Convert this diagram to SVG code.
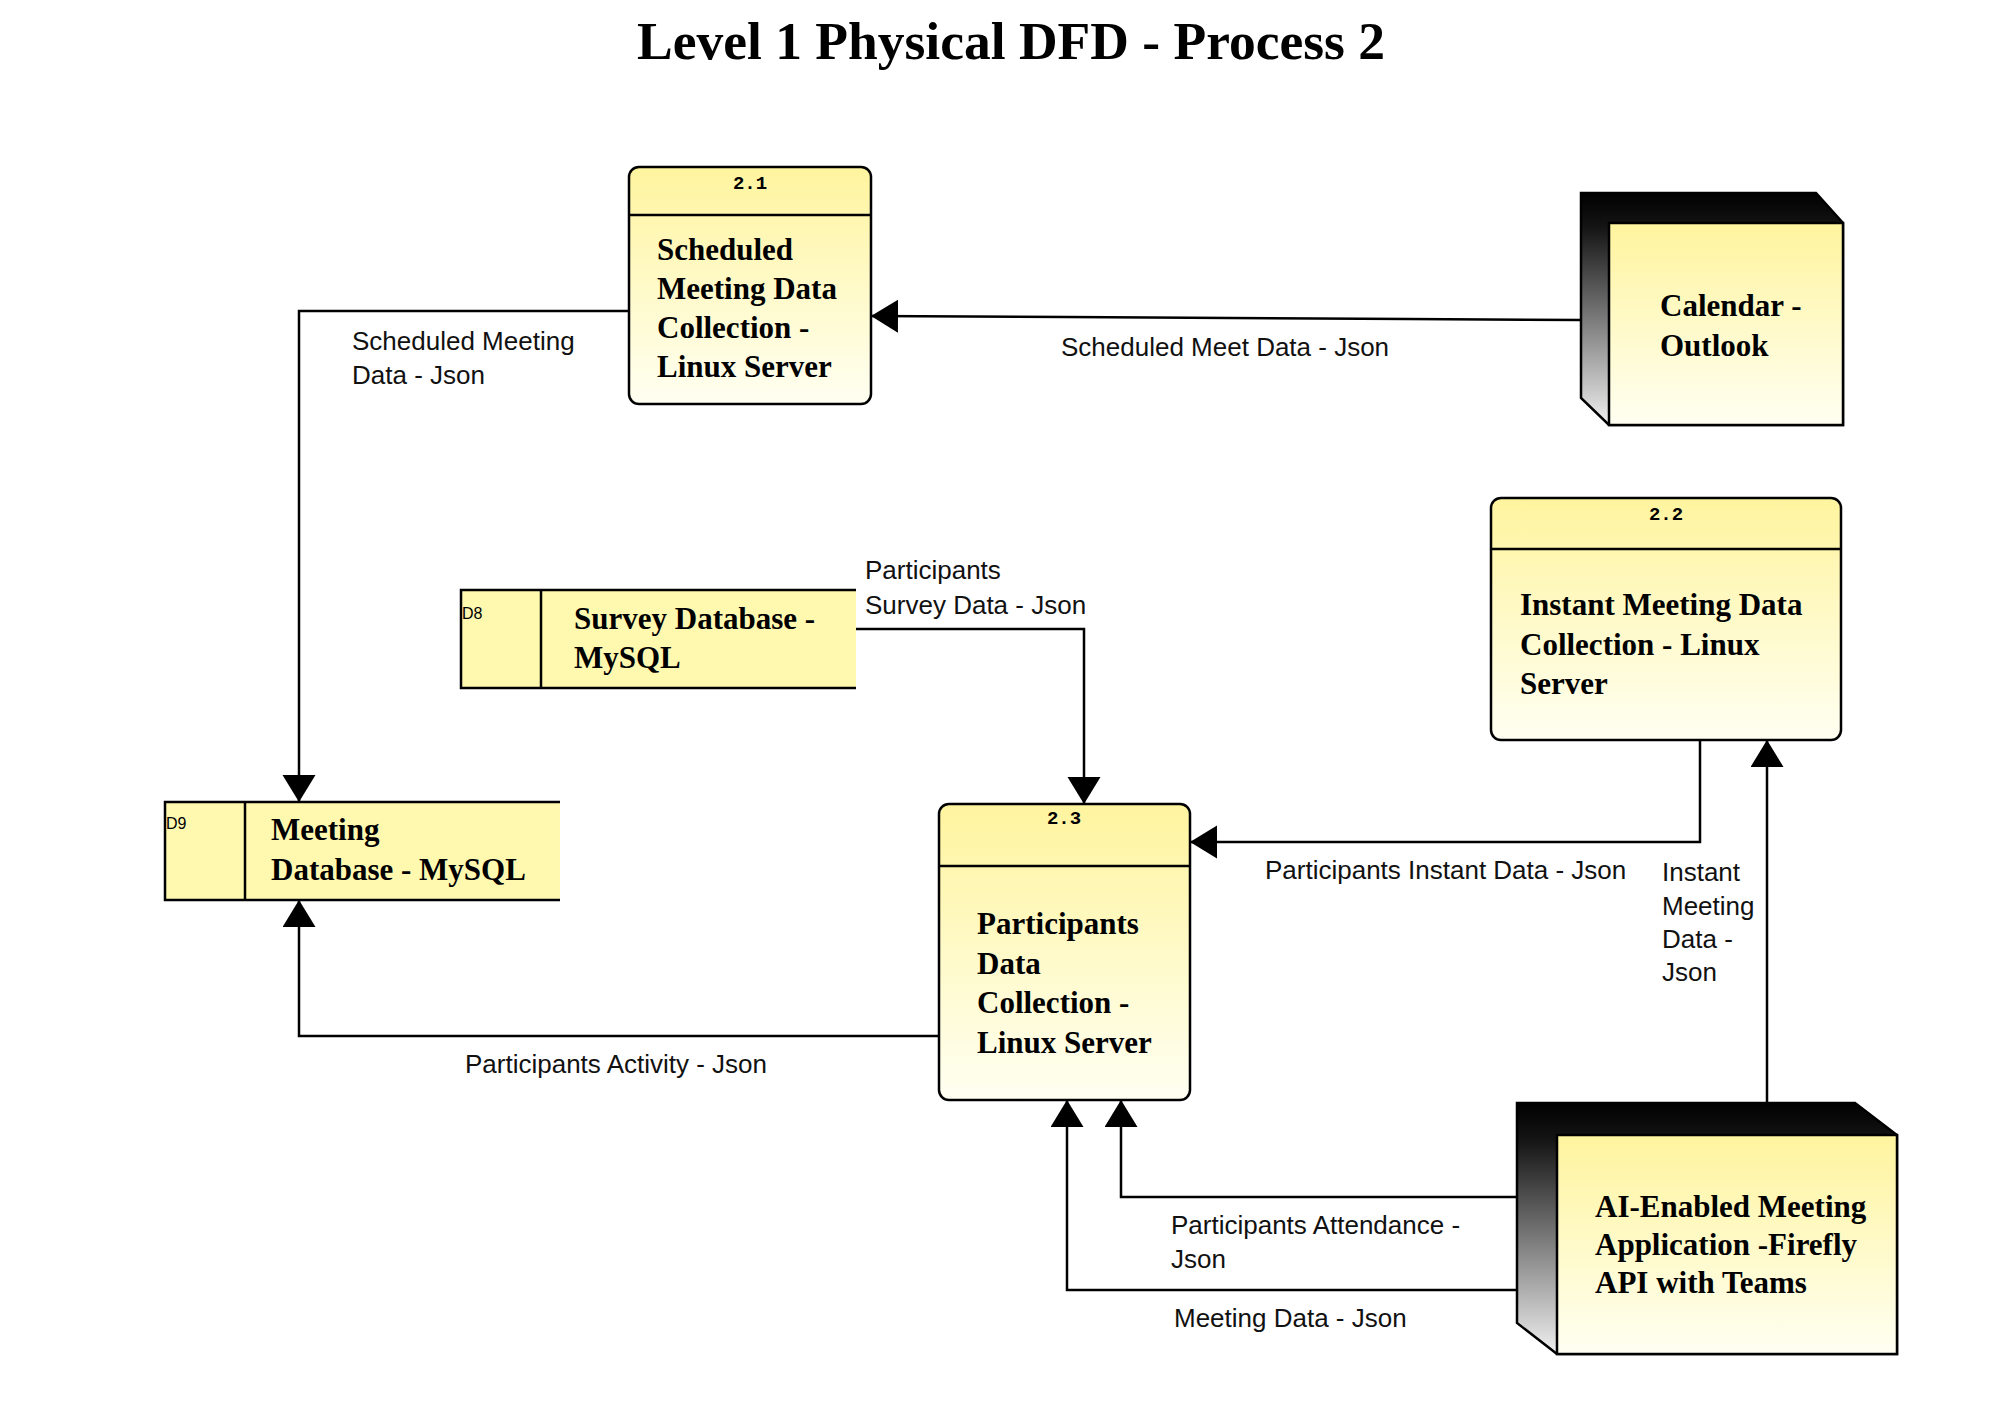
<svg xmlns="http://www.w3.org/2000/svg" width="2006" height="1416" viewBox="0 0 2006 1416">
<defs>
  <linearGradient id="procGrad" x1="0" y1="0" x2="0" y2="1">
    <stop offset="0" stop-color="#FFF49E"/>
    <stop offset="1" stop-color="#FFFFF2"/>
  </linearGradient>
  <linearGradient id="shadowGrad" x1="0" y1="0" x2="0" y2="1">
    <stop offset="0" stop-color="#000000"/>
    <stop offset="0.15" stop-color="#151515"/>
    <stop offset="1" stop-color="#F0F0F0"/>
  </linearGradient>
  <marker id="arrow" markerUnits="userSpaceOnUse" markerWidth="28" markerHeight="34" refX="27" refY="16.5" orient="auto">
    <path d="M0,0 L27,16.5 L0,33 Z" fill="#000"/>
  </marker>
  <style>
    .title { font-family: "Liberation Serif", "Times New Roman", serif; font-weight: bold; font-size: 53.5px; fill: #000; }
    .node { font-family: "Liberation Serif", "Times New Roman", serif; font-weight: bold; font-size: 31px; fill: #000; }
    .num { font-family: "Liberation Mono", "Courier New", monospace; font-weight: bold; font-size: 19px; fill: #000; }
    .ds { font-family: "Liberation Sans", Arial, sans-serif; font-size: 16px; fill: #000; }
    .lbl { font-family: "Liberation Sans", Arial, sans-serif; font-size: 26px; fill: #111; }
    .box { stroke: #000; stroke-width: 2.5; }
    .flow { fill: none; stroke: #000; stroke-width: 2.5; marker-end: url(#arrow); }
  </style>
</defs>
<rect x="0" y="0" width="2006" height="1416" fill="#FFFFFF"/>
<text class="title" x="1011" y="59" text-anchor="middle">Level 1 Physical DFD - Process 2</text>

<g id="connectors">
  <polyline class="flow" points="629,311 299,311 299,802"/>
  <polyline class="flow" points="1581,320 1407,319 1067,317 871,316"/>
  <polyline class="flow" points="856,629 1084,629 1084,804"/>
  <polyline class="flow" points="939,1036 299,1036 299,900"/>
  <polyline class="flow" points="1700,740 1700,842 1190,842"/>
  <polyline class="flow" points="1767,1103 1767,740"/>
  <polyline class="flow" points="1517,1197 1121,1197 1121,1100"/>
  <polyline class="flow" points="1517,1290 1067,1290 1067,1100"/>
  <text class="lbl" x="352" y="350">Scheduled Meeting</text>
  <text class="lbl" x="352" y="384">Data - Json</text>
  <text class="lbl" x="1061" y="356">Scheduled Meet Data - Json</text>
  <text class="lbl" x="865" y="579">Participants</text>
  <text class="lbl" x="865" y="614">Survey Data - Json</text>
  <text class="lbl" x="465" y="1073">Participants Activity - Json</text>
  <text class="lbl" x="1265" y="879">Participants Instant Data - Json</text>
  <text class="lbl" x="1662" y="881">Instant</text>
  <text class="lbl" x="1662" y="915">Meeting</text>
  <text class="lbl" x="1662" y="948">Data -</text>
  <text class="lbl" x="1662" y="981">Json</text>
  <text class="lbl" x="1171" y="1234">Participants Attendance -</text>
  <text class="lbl" x="1171" y="1268">Json</text>
  <text class="lbl" x="1174" y="1327">Meeting Data - Json</text>
</g>

<g id="process-2-1">
  <rect class="box" x="629" y="167" width="242" height="237" rx="10" fill="url(#procGrad)"/>
  <line class="box" x1="629" y1="215" x2="871" y2="215"/>
  <text class="num" x="750" y="189" text-anchor="middle">2.1</text>
  <text class="node" x="657" y="260">Scheduled</text>
  <text class="node" x="657" y="299">Meeting Data</text>
  <text class="node" x="657" y="338">Collection -</text>
  <text class="node" x="657" y="377">Linux Server</text>
</g>

<g id="process-2-2">
  <rect class="box" x="1491" y="498" width="350" height="242" rx="10" fill="url(#procGrad)"/>
  <line class="box" x1="1491" y1="549" x2="1841" y2="549"/>
  <text class="num" x="1666" y="520" text-anchor="middle">2.2</text>
  <text class="node" x="1520" y="615">Instant Meeting Data</text>
  <text class="node" x="1520" y="655">Collection - Linux</text>
  <text class="node" x="1520" y="694">Server</text>
</g>

<g id="process-2-3">
  <rect class="box" x="939" y="804" width="251" height="296" rx="10" fill="url(#procGrad)"/>
  <line class="box" x1="939" y1="866" x2="1190" y2="866"/>
  <text class="num" x="1064" y="824" text-anchor="middle">2.3</text>
  <text class="node" x="977" y="934">Participants</text>
  <text class="node" x="977" y="974">Data</text>
  <text class="node" x="977" y="1013">Collection -</text>
  <text class="node" x="977" y="1053">Linux Server</text>
</g>

<g id="calendar-outlook">
  <polygon class="box" points="1581,193 1816,193 1843,223 1843,425 1609,425 1581,398" fill="url(#shadowGrad)"/>
  <rect class="box" x="1609" y="223" width="234" height="202" fill="url(#procGrad)"/>
  <text class="node" x="1660" y="316">Calendar -</text>
  <text class="node" x="1660" y="356">Outlook</text>
</g>

<g id="ai-meeting-app">
  <polygon class="box" points="1517,1103 1855,1103 1897,1135 1897,1354 1557,1354 1517,1323" fill="url(#shadowGrad)"/>
  <rect class="box" x="1557" y="1135" width="340" height="219" fill="url(#procGrad)"/>
  <text class="node" x="1595" y="1217">AI-Enabled Meeting</text>
  <text class="node" x="1595" y="1255">Application -Firefly</text>
  <text class="node" x="1595" y="1293">API with Teams</text>
</g>

<g id="survey-database">
  <rect x="461" y="590" width="395" height="98" fill="#FFF9B0"/>
  <polyline class="box" points="856,590 461,590 461,688 856,688" fill="none"/>
  <line class="box" x1="541" y1="590" x2="541" y2="688"/>
  <text class="ds" x="462" y="619">D8</text>
  <text class="node" x="574" y="629">Survey Database -</text>
  <text class="node" x="574" y="668">MySQL</text>
</g>

<g id="meeting-database">
  <rect x="165" y="802" width="395" height="98" fill="#FFF9B0"/>
  <polyline class="box" points="560,802 165,802 165,900 560,900" fill="none"/>
  <line class="box" x1="245" y1="802" x2="245" y2="900"/>
  <text class="ds" x="166" y="829">D9</text>
  <text class="node" x="271" y="840">Meeting</text>
  <text class="node" x="271" y="880">Database - MySQL</text>
</g>
</svg>
